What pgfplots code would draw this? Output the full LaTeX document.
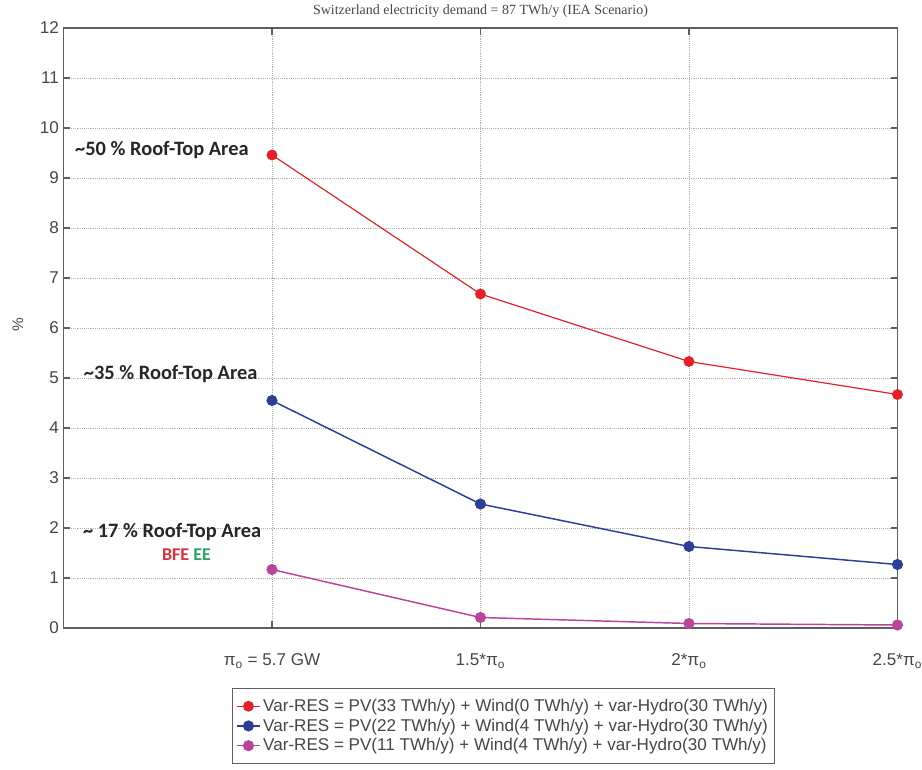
\documentclass[border=0pt]{standalone}
\usepackage{fontspec}
\setmainfont{Liberation Sans}
\newfontfamily\serifttl{Liberation Serif}
\newfontfamily\anno{Carlito}
\usepackage{pgfplots}
\pgfplotsset{compat=1.18}
\definecolor{cred}{RGB}{232,30,40}
\definecolor{cblue}{RGB}{44,62,150}
\definecolor{cmag}{RGB}{185,68,155}
\definecolor{cframe}{RGB}{95,95,95}
\definecolor{ctxt}{RGB}{70,70,70}
\definecolor{bfe}{RGB}{225,45,60}
\definecolor{ee}{RGB}{40,165,100}
\begin{document}
\begin{tikzpicture}
\path[use as bounding box] (0,0) rectangle (691.5pt,576.75pt);
\begin{axis}[
  at={(47.6pt,105.75pt)}, anchor=south west,
  width=625.5pt, height=450pt, scale only axis,
  xmin=0, xmax=4, ymin=0, ymax=12,
  xtick={1,2,3,4},
  xticklabels={π\textsubscript{o} = 5.7 GW, 1.5*π\textsubscript{o}, 2*π\textsubscript{o}, 2.5*π\textsubscript{o}},
  ytick={0,1,...,12},
  /pgf/number format/assume math mode=true,
  tick label style={font=\fontsize{12.8}{14}\selectfont, text=ctxt},
  xticklabel style={yshift=-16pt},
  tick align=inside, major tick length=5pt,
  tick style={cframe, line width=0.8pt},
  axis line style={cframe, line width=1.2pt},
  grid=major,
  major grid style={densely dotted, gray!60, line width=0.6pt},
  ylabel={\%},
  ylabel style={at={(axis description cs:-0.0546,0.505)}, anchor=center, font=\fontsize{11.5}{12}\selectfont, text=ctxt},
  title={Switzerland electricity demand = 87 TWh/y (IEA Scenario)},
  title style={at={(axis description cs:0.5,1.004)}, anchor=south, inner sep=0pt, font=\serifttl\fontsize{10.5}{11}\selectfont, text=ctxt},
  legend style={at={(axis description cs:0.202,-0.1)}, anchor=north west,
    font=\fontsize{12.8}{15.5}\selectfont, text=ctxt, draw=cframe, line width=0.6pt,
    inner xsep=3pt, inner ysep=6pt, row sep=0pt},
  legend cell align=left,
  clip=false,
]
\addplot[cred, line width=0.9pt, mark=*, mark size=3.6pt] coordinates {(1,9.46) (2,6.68) (3,5.33) (4,4.67)};
\addlegendentry{Var-RES = PV(33 TWh/y) + Wind(0 TWh/y) + var-Hydro(30 TWh/y)}
\addplot[cblue, line width=1.1pt, mark=*, mark size=3.6pt] coordinates {(1,4.55) (2,2.48) (3,1.63) (4,1.27)};
\addlegendentry{Var-RES = PV(22 TWh/y) + Wind(4 TWh/y) + var-Hydro(30 TWh/y)}
\addplot[cmag, line width=1.1pt, mark=*, mark size=3.6pt] coordinates {(1,1.17) (2,0.21) (3,0.09) (4,0.06)};
\addlegendentry{Var-RES = PV(11 TWh/y) + Wind(4 TWh/y) + var-Hydro(30 TWh/y)}
\node[anchor=west, inner sep=0pt, font=\anno\bfseries\fontsize{15.3}{16}\selectfont, text=black!85] at (axis cs:0.055,9.56) {\textasciitilde 50 \% Roof-Top Area};
\node[anchor=west, inner sep=0pt, font=\anno\bfseries\fontsize{15.3}{16}\selectfont, text=black!85] at (axis cs:0.097,5.08) {\textasciitilde 35 \% Roof-Top Area};
\node[anchor=west, inner sep=0pt, font=\anno\bfseries\fontsize{15.3}{16}\selectfont, text=black!85] at (axis cs:0.093,1.92) {\textasciitilde\ 17 \% Roof-Top Area};
\node[anchor=center, inner sep=0pt, font=\anno\bfseries\fontsize{13.5}{14}\selectfont] at (axis cs:0.59,1.46) {\textcolor{bfe}{BFE} \textcolor{ee}{EE}};
\end{axis}
\end{tikzpicture}
\end{document}
